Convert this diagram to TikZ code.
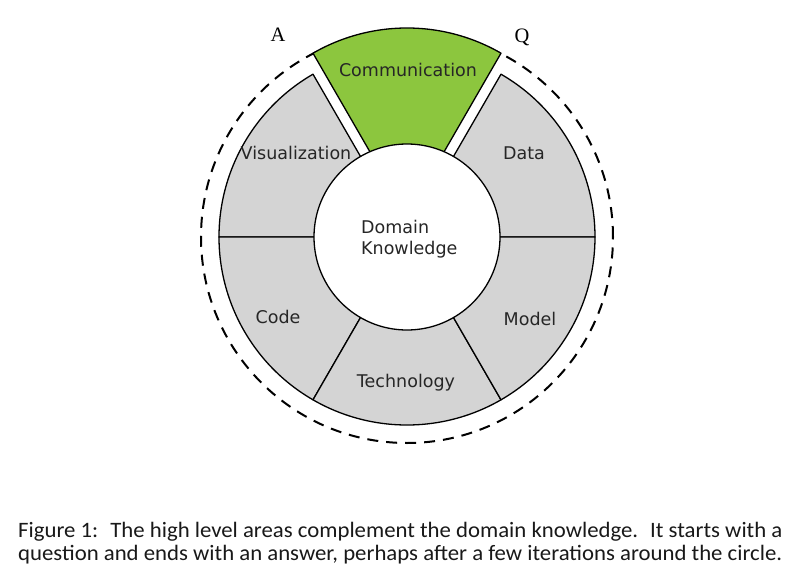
\documentclass[tikz,border=0pt]{standalone}
\usepackage{fontspec}
\setmainfont{DejaVu Sans}
\newfontfamily\serifAQ{Liberation Serif}
\newfontfamily\capfont{Carlito}
\definecolor{segGray}{HTML}{D4D4D4}
\definecolor{commGreen}{HTML}{8CC63E}
\begin{document}
\begin{tikzpicture}[
  seg/.style={draw=black, fill=segGray, line width=1.3pt, line join=round},
  comm/.style={draw=black, fill=commGreen, line width=1.3pt, line join=round},
  lbl/.style={font=\fontsize{17.5pt}{21pt}\selectfont, text=black!85, inner sep=0pt},
  corner/.style={font=\serifAQ\fontsize{20.5pt}{24pt}\selectfont, inner sep=0pt}
]
\useasboundingbox (-407pt,-339pt) rectangle (393pt,237pt);
\fill[white] (-407pt,-339pt) rectangle (393pt,237pt);
% dashed outer circle
\draw[line width=2pt, dash pattern=on 11pt off 8pt] (0,0) circle (206pt);
% fixed segments
\foreach \a in {0,120,180,240,300}{
  \draw[seg] (0,0) -- (\a:188pt) arc[start angle=\a, end angle=\a+60, radius=188pt] -- cycle;
}
% exploded communication segment
\begin{scope}[shift={(0pt,21pt)}]
  \draw[comm] (0,0) -- (60:188pt) arc[start angle=60, end angle=120, radius=188pt] -- cycle;
\end{scope}
% inner circle
\node[circle, draw=black, fill=white, line width=1.3pt, minimum size=186pt, inner sep=0pt] (dk) at (0,0) {};
\node[lbl, align=left, anchor=west] (dktext) at (-46pt,-2pt) {Domain\\Knowledge};
% labels
\node[lbl] (lcomm) at (1pt,167pt) {Communication};
\node[lbl] (lvis) at (-111pt,84pt) {Visualization};
\node[lbl] (ldata) at (117pt,84pt) {Data};
\node[lbl] (lcode) at (-129pt,-80pt) {Code};
\node[lbl] (lmodel) at (123pt,-82pt) {Model};
\node[lbl] (ltech) at (-1pt,-146pt) {Technology};
\node[corner] (la) at (-129pt,202pt) {A};
\node[corner] (lq) at (115pt,200pt) {Q};
% caption
\node[anchor=west, align=left, inner sep=0pt, xscale=1.035, font=\capfont\fontsize{22pt}{23pt}\selectfont, text=black!90] (cap) at (-389pt,-306.5pt)
  {Figure 1: \ The high level areas complement the domain knowledge. \ It starts with a\\question and ends with an answer, perhaps after a few iterations around the circle.};
\end{tikzpicture}
\end{document}
